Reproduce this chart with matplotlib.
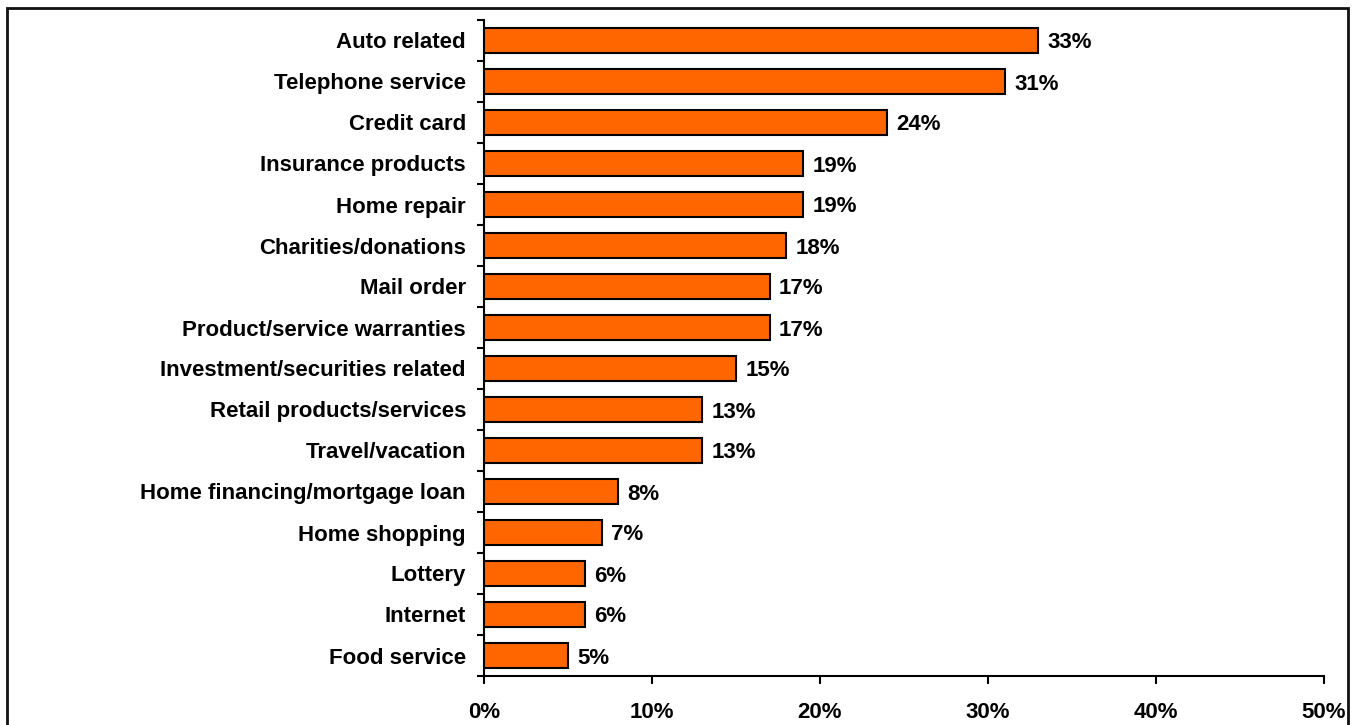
import matplotlib
matplotlib.use("Agg")
import matplotlib.pyplot as plt
from matplotlib.patches import Rectangle
from matplotlib.ticker import FixedLocator, FixedFormatter

categories = [
    "Auto related", "Telephone service", "Credit card", "Insurance products",
    "Home repair", "Charities/donations", "Mail order",
    "Product/service warranties", "Investment/securities related",
    "Retail products/services", "Travel/vacation",
    "Home financing/mortgage loan", "Home shopping", "Lottery", "Internet",
    "Food service",
]
values = [33, 31, 24, 19, 19, 18, 17, 17, 15, 13, 13, 8, 7, 6, 6, 5]
xticks = [0, 10, 20, 30, 40, 50]
xtick_labels = ["0%", "10%", "20%", "30%", "40%", "50%"]

plt.rcParams["font.family"] = ["Liberation Sans", "DejaVu Sans"]
plt.rcParams["font.weight"] = "bold"

FS = 16
W, H = 1359, 725
fig = plt.figure(figsize=(W / 100, H / 100), dpi=100)
ax = fig.add_axes([484 / W, 1 - 676 / H, (1324 - 484) / W, (676 - 20) / H])

n = len(categories)
ypos = list(range(n))
ax.barh(ypos, values, height=0.6, color="#FF6600", edgecolor="black",
        linewidth=1.5, zorder=3)
for y, v in zip(ypos, values):
    ax.text(v + 0.55, y, f"{v}%", va="center_baseline", ha="left",
            fontsize=FS, fontweight="bold", color="black")

ax.set_xlim(0, 50)
ax.set_ylim(n - 0.5, -0.5)

# boundaries between categories carry the tick marks, centers carry labels
ax.yaxis.set_major_locator(FixedLocator([i - 0.5 for i in range(n + 1)]))
ax.yaxis.set_major_formatter(FixedFormatter([""] * (n + 1)))
ax.yaxis.set_minor_locator(FixedLocator(ypos))
ax.yaxis.set_minor_formatter(FixedFormatter(categories))
ax.tick_params(axis="y", which="major", length=5, width=1.5, direction="out")
ax.tick_params(axis="y", which="minor", length=0, pad=13, labelsize=FS)

ax.set_xticks(xticks)
ax.set_xticklabels(xtick_labels)
ax.tick_params(axis="x", length=6, width=1.5, direction="out", pad=12.5,
               labelsize=FS)
for lbl in ax.get_xticklabels():
    lbl.set_fontweight("bold")
for lbl in ax.get_yticklabels(minor=True):
    lbl.set_fontweight("bold")
    lbl.set_verticalalignment("center_baseline")

for side in ("top", "right"):
    ax.spines[side].set_visible(False)
for side in ("left", "bottom"):
    ax.spines[side].set_linewidth(1.5)

# outer frame around the figure
fig.patches.append(Rectangle((6.5 / W, -0.05), (1348 - 6.5) / W,
                             1 - 7.5 / H + 0.05, transform=fig.transFigure,
                             fill=False, edgecolor="#111111", linewidth=2))

fig.savefig("out.png", dpi=100)
